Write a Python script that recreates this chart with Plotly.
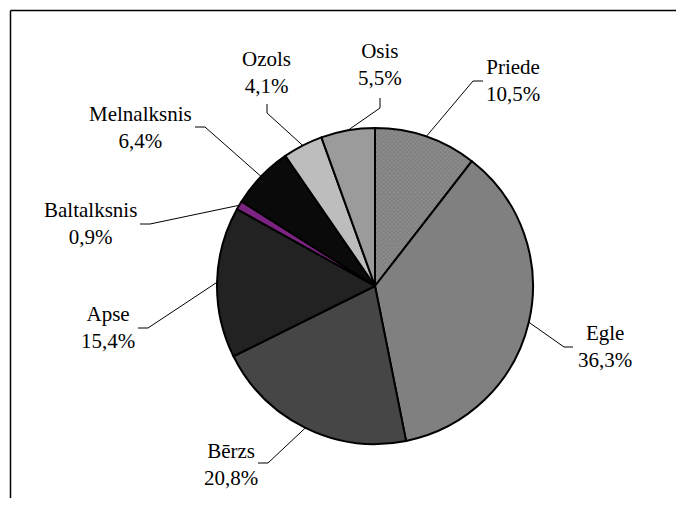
import math
import plotly.graph_objects as go

# ---- data ----
species = ["Priede", "Egle", "Bērzs", "Apse", "Baltalksnis", "Melnalksnis", "Ozols", "Osis"]
shares = [10.5, 36.3, 20.8, 15.4, 0.9, 6.4, 4.1, 5.5]
share_labels = ["10,5%", "36,3%", "20,8%", "15,4%", "0,9%", "6,4%", "4,1%", "5,5%"]

# ---- style / layout ----
colors = ["#8e8e8e", "#808080", "#464646", "#222222", "#7b2380", "#0a0a0a", "#bdbdbd", "#9b9b9b"]
W, H = 676, 490
OFF = 8  # page (body) margin in the screenshot
CX, CY, R = 375, 286, 158  # pie centre and radius in screenshot px
# label centres (px) and leader-line elbow/tick points (screenshot px)
label_xy = [(513, 80), (605, 346), (231, 464), (108, 327), (90, 224), (140, 127), (266, 72), (380, 65)]
tick_end = [(483, 81), (573, 347), (258, 463), (138, 328), (140, 224), (195, 127), (267, 104), (380, 98)]
elbow = [(473, 81), (564, 347), (268, 463), (148, 328), (150, 224), (205, 127), (267, 113), (380, 108)]

FONT = "Liberation Serif, Times New Roman, serif"


def px(x):
    return (x - OFF) / W


def py(y):
    return 1 - (y - OFF) / H


pattern_shapes = ["x"] + [""] * (len(species) - 1)

fig = go.Figure(go.Pie(
    labels=species,
    values=shares,
    sort=False,
    direction="clockwise",
    rotation=0,
    textinfo="none",
    hoverinfo="label+percent",
    showlegend=False,
    marker=dict(
        colors=colors,
        line=dict(color="black", width=2),
        pattern=dict(shape=pattern_shapes, size=3, solidity=0.5,
                     fgcolor="#6a6a6a", fillmode="overlay"),
    ),
    domain=dict(x=[px(CX - R), px(CX + R)], y=[py(CY + R), py(CY - R)]),
))

shapes = []
annotations = []
total = sum(shares)
cum = 0.0
for i, (name, v) in enumerate(zip(species, shares)):
    mid = (cum + v / 2) / total * 2 * math.pi
    cum += v
    sx = CX + R * math.sin(mid)
    sy = CY - R * math.cos(mid)
    ex, ey = elbow[i]
    tx, ty = tick_end[i]
    path = f"M {px(sx)} {py(sy)} L {px(ex)} {py(ey)} L {px(tx)} {py(ty)}"
    shapes.append(dict(type="path", xref="paper", yref="paper", path=path,
                       line=dict(color="black", width=1)))
    lx, ly = label_xy[i]
    annotations.append(dict(
        x=px(lx), y=py(ly), xref="paper", yref="paper",
        text=f"{name}<br>{share_labels[i]}", showarrow=False,
        xanchor="center", yanchor="middle", align="center",
        font=dict(family=FONT, size=21, color="black"),
    ))

# chart-area frame: left and top edges (right/bottom fall outside the view)
shapes.append(dict(type="line", xref="paper", yref="paper",
                   x0=px(10.5), x1=px(10.5), y0=0, y1=py(10.5),
                   line=dict(color="black", width=1.5)))
shapes.append(dict(type="line", xref="paper", yref="paper",
                   x0=px(10.5), x1=1, y0=py(10.5), y1=py(10.5),
                   line=dict(color="black", width=1.5)))

fig.update_layout(
    width=W, height=H,
    margin=dict(l=0, r=0, t=0, b=0),
    paper_bgcolor="white", plot_bgcolor="white",
    font=dict(family=FONT, size=21, color="black"),
    shapes=shapes, annotations=annotations,
)

fig.write_html("out.html")
